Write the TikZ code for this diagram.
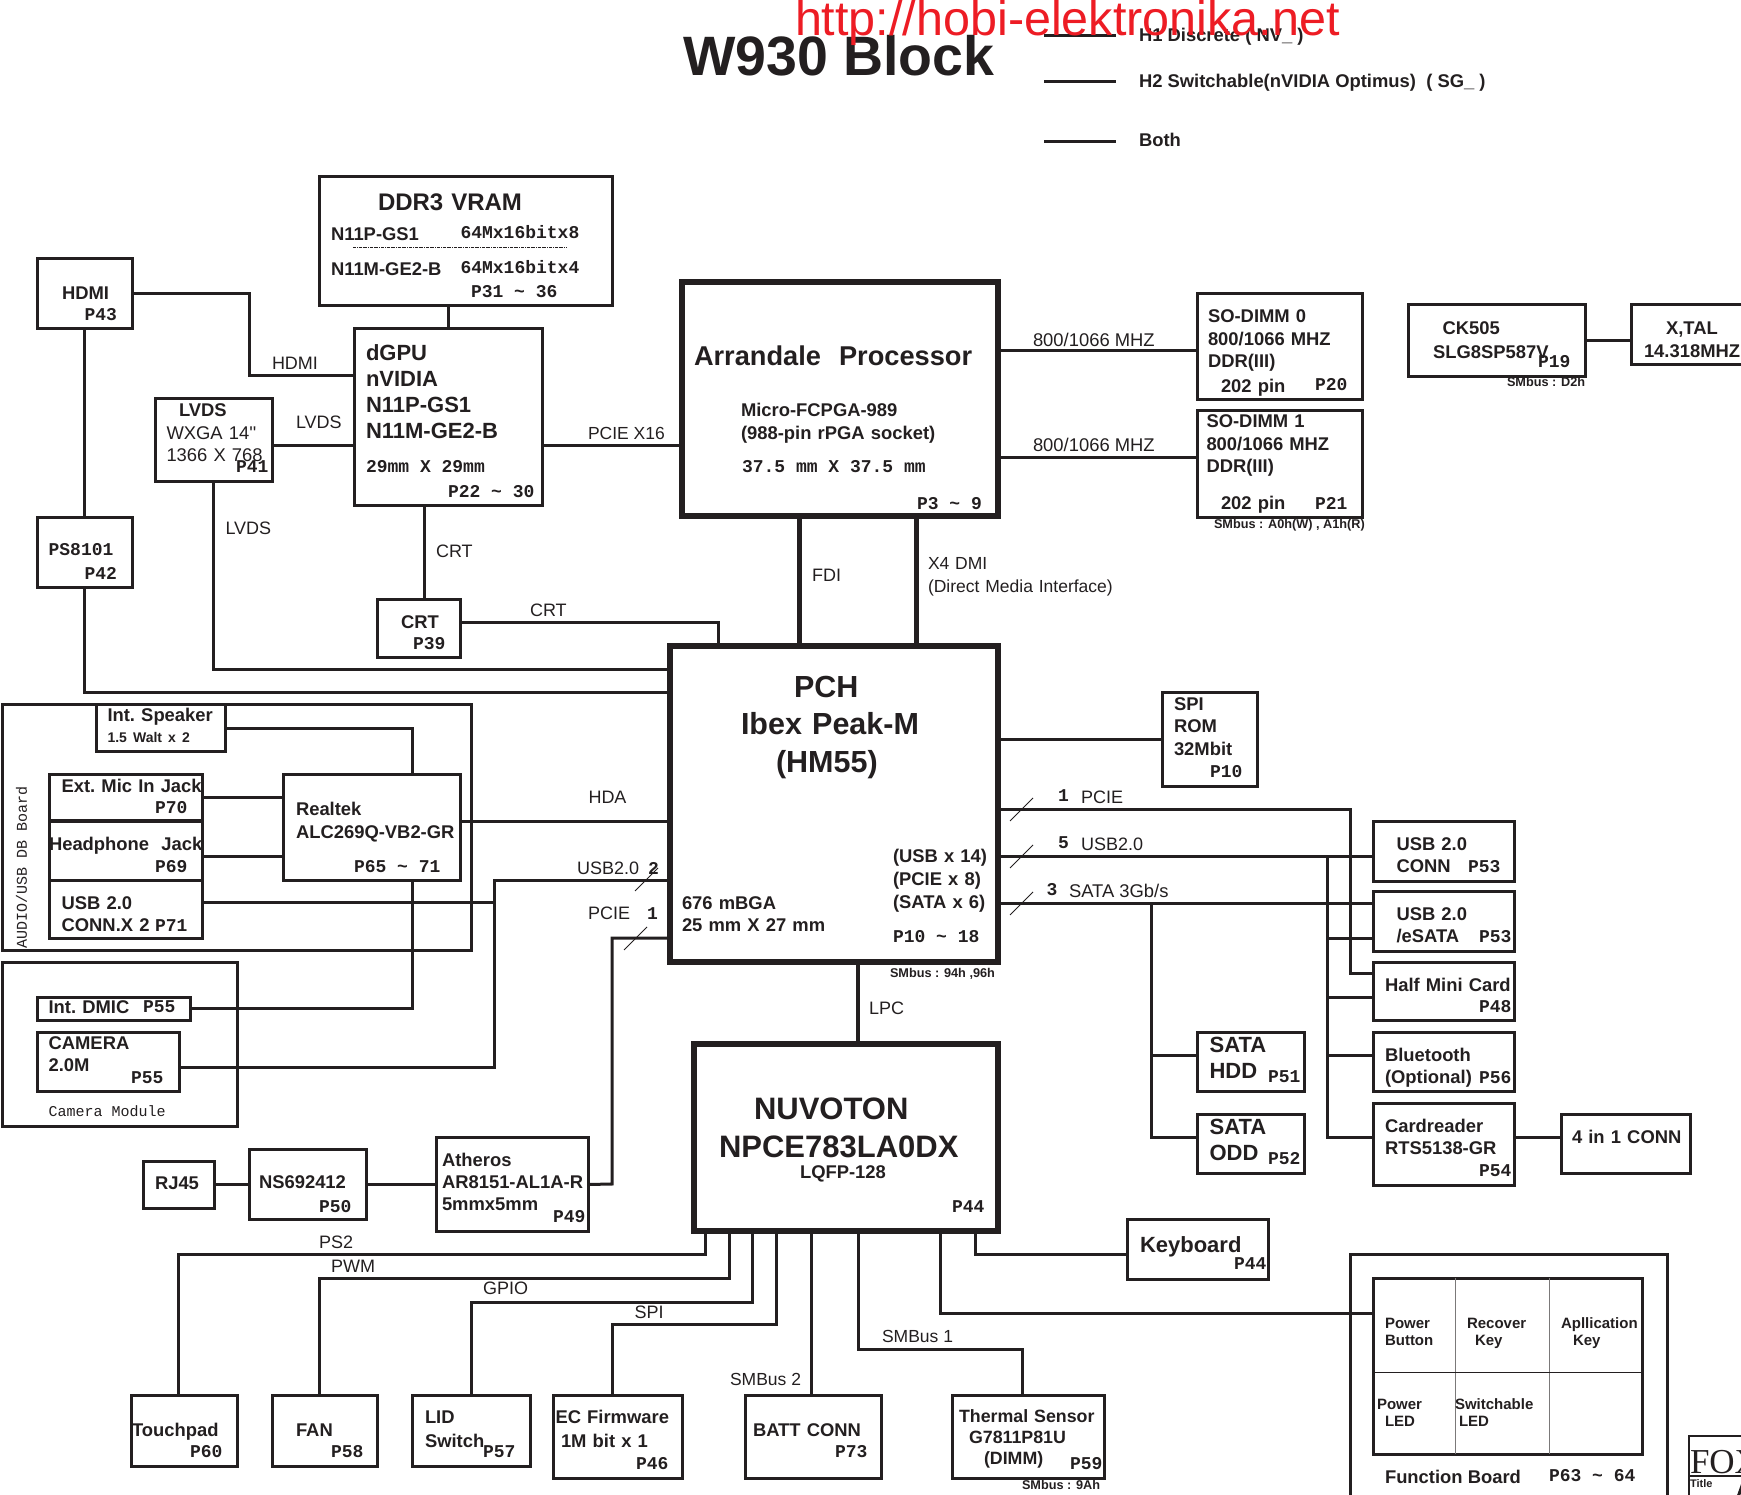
\documentclass[tikz,border=0pt]{standalone}
\usepackage{xcolor}
\usepackage{fontspec}
\setmainfont{Liberation Sans}
\setmonofont{Liberation Mono}
\usetikzlibrary{positioning}
\definecolor{ink}{HTML}{231F20}
\definecolor{wmred}{HTML}{ED1C24}

\begin{document}
\begin{tikzpicture}[
  x=1pt, y=-1pt,
  every node/.style={text=ink},
  bx/.style n args={4}{draw=ink, line width=3pt, outer sep=0pt, inner sep=0pt, anchor=north west, align=left,
    font=\fontsize{18.4}{22.5}\selectfont\bfseries, minimum width=#1, minimum height=#2, text width=#1-2*#3,
    text height={max(0,2*#4-#2)}, text depth={max(0,#2-2*#4)}},
  chip/.style={line width=6pt},
  big/.style={font=\fontsize{22}{26}\selectfont\bfseries},
  tx/.style={anchor=base west, inner sep=0pt, outer sep=0pt, align=left},
  lab/.style={tx, font=\fontsize{18}{22}\selectfont},
  labm/.style={tx, font=\fontsize{18.4}{22}\selectfont},
  labs/.style={tx, font=\fontsize{17.5}{23}\selectfont},
  bt/.style={tx, font=\fontsize{18.4}{22.5}\selectfont\bfseries},
  tiny/.style={tx, font=\fontsize{12.7}{15}\selectfont\bfseries},
  cell/.style={tx, text width=88pt, font=\fontsize{15}{17.5}\selectfont\bfseries},
  monob/.style={tx, font=\fontsize{18}{22}\selectfont\ttfamily\bfseries},
  monor/.style={tx, font=\fontsize{15}{18}\selectfont\ttfamily},
  conn/.style={draw=ink, line width=3pt},
  tick/.style={draw=ink, line width=0.9pt},
  divider/.style={draw=ink!60, line width=1pt}
]
\useasboundingbox (0,0) rectangle (1741,1495);

\node[tx, font=\fontsize{55.5}{60}\selectfont\bfseries] (title) at (683,76) {W930 Block};
\node[bt] (hone) at (1139,42) {H1 Discrete ( NV\_ )};
\node[bt] (htwo) at (1139,88) {H2 Switchable(nVIDIA Optimus)~~( SG\_ )};
\node[bt] (hboth) at (1139,147) {Both};
\foreach \nm/\ly in {hone/36,htwo/82,hboth/142} {
  \coordinate (\nm a) at (1044,\ly);
  \coordinate (\nm b) at (1116,\ly);
  \draw[conn] (\nm a) -- (\nm b);
}

\node[bx={293}{129}{59}{34}, font=\fontsize{24}{28}\selectfont\bfseries] (vram) at (319,177) {DDR3~VRAM};
\node[bt] (vramgs) at (331,241) {N11P-GS1};
\node[bt] (vramge) at (331,276) {N11M-GE2-B};
\node[monob] (vramx) at (460.5,239) {64Mx16bitx8};
\node[monob] (vramy) at (460.5,274) {64Mx16bitx4};
\coordinate (dasha) at (353,247);
\coordinate (dashb) at (566,247);
\draw[draw=ink, line width=0.6pt, densely dash dot] (dasha) -- (dashb);

\node[bx={95}{70}{25}{41}] (hdmi) at (37,259) {HDMI};
\node[bx={95}{70}{11.6}{38}, below=188pt of hdmi, font=\fontsize{18}{22}\selectfont\ttfamily\bfseries] (ps) {PS8101};
\node[bx={188}{176}{12}{32}, big] (dgpu) at (354,329) {dGPU\\nVIDIA\\N11P-GS1\\N11M-GE2-B};
\node[monob] (dgpusize) at (366,473) {29mm X 29mm};
\node[bx={117}{83}{11.5}{18}] (lvds) at (155,399) {\hspace*{12.5pt}LVDS\\{\mdseries WXGA~14\textquotesingle\textquotesingle}\\{\mdseries 1366~X~768}};
\node[bx={83}{58}{24}{29}] (crt) at (377,599) {CRT};

\node[bx={316}{234}{12}{84}, chip, font=\fontsize{27.2}{32}\selectfont\bfseries] (arr) at (682,282) {Arrandale~~Processor};
\node[bt, text width=220pt] (arrsock) at (741,417) {Micro-FCPGA-989\\(988-pin rPGA socket)};
\node[monob] (arrsize) at (742,473) {37.5 mm X 37.5 mm};

\node[bx={165}{106}{11}{29}] (dimma) at (1197,294) {SO-DIMM 0\\800/1066~MHZ\\DDR(III)\\[2.5pt]\hspace*{13pt}202 pin};
\node[bx={165}{106}{9.5}{17}, below=11pt of dimma] (dimmb) {SO-DIMM 1\\800/1066~MHZ\\DDR(III)\\[14pt]\hspace*{14.5pt}202 pin};
\node[tiny] (dimmbus) at (1214,528) {SMbus : A0h(W) , A1h(R)};
\node[bx={177}{72}{25}{30}] (ck) at (1408,305) {\hspace*{9.5pt}CK505\\[1.5pt]SLG8SP587V};
\node[tiny] (ckbus) at (1507,387) {SMbus : D2h};
\node[bx={129}{60}{13}{30}] (xtal) at (1631,305) {\hspace*{22pt}X,TAL\\[0pt]14.318MHZ};

\node[bx={328}{316}{71}{51}, chip, font=\fontsize{30.5}{37.5}\selectfont\bfseries] (pch) at (670,646) {\hspace*{53pt}PCH\\Ibex~Peak-M\\\hspace*{35pt}(HM55)};
\node[bt, text width=180pt] (pchbga) at (682,909) {676 mBGA\\25 mm X 27 mm};
\node[bt, text width=100pt, font=\fontsize{18.4}{23}\selectfont\bfseries] (pchports) at (893,862) {(USB x 14)\\(PCIE x 8)\\(SATA x 6)};
\node[tiny] (pchbus) at (890,977) {SMbus : 94h ,96h};

\node[bx={469}{246}{0}{0}] (audio) at (2,704) {};
\node[monor, rotate=90] (audiotext) at (27,948) {AUDIO/USB DB Board};
\node[bx={129}{47}{11.5}{17}] (speaker) at (96,704) {Int.~Speaker\\[-1.5pt]{\fontsize{14}{14}\selectfont 1.5 Walt x 2}};
\node[bx={153}{47}{12.6}{18}] (mic) at (49,774) {Ext.~Mic~In~Jack};
\node[bx={153}{59}{0}{29}, below=0pt of mic] (phone) {Headphone~~Jack};
\node[bx={153}{58}{12.6}{29}, below=0pt of phone] (usbx) {USB 2.0\\CONN.X~2};
\node[bx={177}{106}{13}{41}, font=\fontsize{18.4}{23}\selectfont\bfseries] (realtek) at (283,774) {Realtek\\\mbox{ALC269Q-VB2-GR}};
\draw[draw=ink, line width=4.5pt] (mic.south west) -- (mic.south east);

\node[bx={235}{164}{0}{0}] (cammod) at (2,962) {};
\node[bx={153}{23}{11.6}{16}] (dmic) at (37,997) {Int.~DMIC};
\node[bx={142}{59}{11.6}{17}] (cam) at (37,1032) {CAMERA\\2.0M};
\node[monor] (camtext) at (48.6,1116) {Camera Module};

\node[bx={95}{94}{12}{18}] (spi) at (1162,692) {SPI\\ROM\\32Mbit};
\node[bx={141}{60}{23.5}{29}] (usbconn) at (1373,821) {USB 2.0\\CONN};
\node[bx={141}{60}{23.5}{29}, below=10pt of usbconn] (esata) {USB 2.0\\/eSATA};
\node[bx={141}{58}{12}{29}, below=11pt of esata] (half) {Half~Mini~Card};
\node[bx={141}{59}{12}{29}, below=12pt of half] (blue) {Bluetooth\\(Optional)};
\node[bx={141}{82}{12}{29}, below=12pt of blue] (card) {Cardreader\\RTS5138-GR};
\node[bx={129}{59}{11}{29}] (fourin) at (1561,1114) {4~in~1~CONN};
\node[bx={107}{59}{12.6}{20}, big] (hdd) at (1197,1032) {SATA\\HDD};
\node[bx={107}{59}{12.6}{20}, big, below=23pt of hdd] (odd) {SATA\\ODD};

\node[bx={304}{187}{25}{75}, chip, font=\fontsize{31}{38}\selectfont\bfseries] (npce) at (694,1044) {\hspace*{35pt}NUVOTON\\NPCE783LA0DX};
\node[bt] (npcepkg) at (800,1178) {LQFP-128};

\node[bx={71}{47}{12}{28}] (rj) at (143,1161) {RJ45};
\node[bx={117}{70}{10}{39}, right=35pt of rj] (ns) {NS692412};
\node[bx={152}{94}{6}{29}, font=\fontsize{18.4}{22}\selectfont\bfseries, right=70pt of ns] (ath) {Atheros\\\mbox{AR8151-AL1A-R}\\5mmx5mm};

\node[bx={105.5}{71}{0.5}{41}] (touch) at (131.5,1395) {Touchpad};
\node[bx={105}{71}{24}{41}, right=35pt of touch] (fan) {FAN};
\node[bx={118}{71}{13}{28}, right=35pt of fan] (lid) {LID\\[1.5pt]Switch};
\node[bx={129}{83}{2.5}{28}, right=23pt of lid.north east, anchor=north west] (ec) {EC~Firmware\\[1.5pt]\hspace*{5.5pt}1M bit x 1};
\node[bx={136}{83}{8}{41}] (batt) at (745,1395) {BATT~CONN};
\node[bx={152}{83}{7}{27}, font=\fontsize{17.8}{21}\selectfont\bfseries] (thermal) at (952,1395) {\mbox{Thermal~Sensor}\\\hspace*{10pt}G7811P81U\\\hspace*{25pt}(DIMM)};
\node[tiny] (thermbus) at (1022,1489) {SMbus : 9Ah};
\node[bx={141}{60}{13}{33}, big] (kbd) at (1127,1219) {Keyboard};

\node[bx={317}{290}{0}{0}] (fnouter) at (1350,1254) {};
\node[bx={269.5}{176}{0}{0}] (fninner) at (1373,1278) {};
\draw[divider] (fninner.north -| 1455,0) -- (fninner.south -| 1455,0);
\draw[divider] (fninner.north -| 1549,0) -- (fninner.south -| 1549,0);
\draw[draw=ink, line width=1pt] (fninner.west |- 0,1372) -- (fninner.east |- 0,1372);
\node[cell] (powerbtn) at (1385,1328) {Power\\Button};
\node[cell] (recover) at (1467,1328) {Recover\\\hspace*{8pt}Key};
\node[cell] (applic) at (1561,1328) {Apllication\\\hspace*{12pt}Key};
\node[cell] (powerled) at (1377,1409) {Power\\\hspace*{8pt}LED};
\node[cell] (swled) at (1455,1409) {Switchable\\\hspace*{4pt}LED};
\node[bt] (fntext) at (1385,1483) {Function Board};

\foreach \nm/\px/\py/\ptxt in {vram/471/298/P31 \textasciitilde{} 36, hdmi/84.5/321/P43, ps/84.5/579/P42, lvds/236/473/P41,
  dgpu/448/497/P22 \textasciitilde{} 30, crt/413/649/P39, arr/917/509/P3 \textasciitilde{} 9, dimma/1315/391/P20, dimmb/1315/509/P21,
  ck/1538/368/P19, pch/893/942/P10 \textasciitilde{} 18, mic/155/813/P70, phone/155/872/P69, usbx/155/931/P71,
  realtek/354/872/P65 \textasciitilde{} 71, dmic/143/1012/P55, cam/131/1083/P55, spi/1210/777/P10, usbconn/1468/872/P53,
  esata/1479/942/P53, half/1479/1012/P48, blue/1479/1083/P56, card/1479/1176/P54, hdd/1268/1082/P51, odd/1268/1164/P52,
  npce/952/1212/P44, ns/319/1212/P50, ath/553/1222/P49, touch/190/1457/P60, fan/331/1457/P58, lid/483/1457/P57,
  ec/636/1469/P46, batt/835/1457/P73, thermal/1070/1469/P59, kbd/1234/1269/P44, fnouter/1549/1481/P63 \textasciitilde{} 64}
  \node[monob] (\nm page) at (\px,\py) {\ptxt};

\draw[conn] (dgpu.north) -- (dgpu.north |- vram.south);
\draw[conn] (hdmi.east) -| (249,376) -- (dgpu.west |- 0,376);
\draw[conn] (hdmi.south) -- (ps.north);
\draw[conn] (ps.south) |- (pch.west |- 0,692);
\draw[conn] (lvds.south) |- (pch.west |- 0,669);
\draw[conn] (lvds.east |- 0,446) -- (dgpu.west |- 0,446);
\draw[conn] (dgpu.east |- 0,446) -- (arr.west |- 0,446);
\draw[conn] (dgpu.south -| 424,0) -- (crt.north -| 424,0);
\draw[conn] (crt.east |- 0,622) -| (pch.north -| 718,0);
\draw[conn] (arr.east |- 0,351) -- (dimma.west |- 0,351);
\draw[conn] (arr.east |- 0,458) -- (dimmb.west |- 0,458);
\draw[conn] (ck.east) -- (xtal.west |- ck.east);
\draw[conn, line width=5pt] (arr.south -| 799,0) -- (pch.north -| 799,0);
\draw[conn, line width=5pt] (arr.south -| 916,0) -- (pch.north -| 916,0);
\draw[conn, line width=4.5pt] (pch.south -| 858,0) -- (npce.north -| 858,0);

\draw[conn] (speaker.east |- 0,728) -| (realtek.north -| 412,0);
\draw[conn] (mic.east) -- (realtek.west |- mic.east);
\draw[conn] (phone.east |- 0,856) -- (realtek.west |- 0,856);
\draw[conn] (realtek.east |- 0,821) -- (pch.west |- 0,821);
\draw[conn] (realtek.south -| 412,0) |- (dmic.east);
\draw[conn] (pch.west |- 0,880) -| (494,1067) -- (cam.east |- 0,1067);
\draw[conn] (usbx.east |- 0,902) -- (494,902);
\draw[conn] (pch.west |- 0,938) -| (612,1184) -- (ath.east);
\draw[conn] (rj.east) -- (ns.west);
\draw[conn] (ns.east) -- (ath.west);

\draw[conn] (pch.east |- 0,739) -- (spi.west);
\draw[conn] (pch.east |- 0,809) -| (1350,973) -- (half.west |- 0,973);
\draw[conn] (pch.east |- 0,856) -- (usbconn.west |- 0,856);
\draw[conn] (pch.east |- 0,903) -- (esata.west |- 0,903);
\coordinate (usbbus) at (1327,856);
\coordinate (satabus) at (1151,903);
\draw[conn] (usbbus) |- (esata.west |- 0,938);
\draw[conn] (usbbus) |- (half.west |- 0,997);
\draw[conn] (usbbus) |- (blue.west |- 0,1055);
\draw[conn] (usbbus) |- (card.west |- 0,1137);
\draw[conn] (satabus) |- (hdd.west |- 0,1055);
\draw[conn] (satabus) |- (odd.west |- 0,1137);
\draw[conn] (card.east |- 0,1137) -- (fourin.west |- 0,1137);

\foreach \nm/\xa/\ya/\xb in {touch/705/1254/178, fan/729/1278/319, lid/752/1302/471, ec/776/1324/612, thermal/858/1349/1022}
  \draw[conn] (npce.south -| \xa,0) |- (\xb,\ya) -- (\nm.north -| \xb,0);
\draw[conn] (npce.south -| 811,0) -- (batt.north -| 811,0);
\draw[conn] (npce.south -| 940,0) |- (fninner.west |- 0,1313);
\draw[conn] (npce.south -| 975,0) |- (kbd.west |- 0,1254);

\foreach \tx/\ty in {635/891, 624/950, 1010/821, 1010/868, 1010/915}
  \draw[tick] (\tx,\ty) -- ++(23,-23);

\node[lab] (lhdmi) at (272,370) {HDMI};
\node[lab] (llvdsa) at (296,429) {LVDS};
\node[lab] (llvdsb) at (225.5,534) {LVDS};
\node[labs] (lpeg) at (588,439) {PCIE X16};
\node[lab] (lcrta) at (436,557) {CRT};
\node[lab] (lcrtb) at (530,616) {CRT};
\node[labm] (lmema) at (1033,347) {800/1066 MHZ};
\node[labm] (lmemb) at (1033,452) {800/1066 MHZ};
\node[lab] (lfdi) at (812,581) {FDI};
\node[labs, text width=200pt] (ldmi) at (928,569) {X4 DMI\\(Direct Media Interface)};
\node[lab] (lhda) at (588.5,803) {HDA};
\node[lab] (lusba) at (577,874) {USB2.0};
\node[monob] (lusban) at (648,874) {2};
\node[lab] (lpciea) at (588,919) {PCIE};
\node[monob] (lpcien) at (647,919) {1};
\node[monob] (lpcieo) at (1058,801) {1};
\node[lab] (lpcieb) at (1081,803) {PCIE};
\node[monob] (lusbf) at (1058,848) {5};
\node[lab] (lusbb) at (1081,850) {USB2.0};
\node[monob] (lsatan) at (1046.5,895) {3};
\node[labm] (lsata) at (1069,897) {SATA 3Gb/s};
\node[lab] (llpc) at (869,1014) {LPC};
\node[lab] (lps) at (319,1248) {PS2};
\node[lab] (lpwm) at (331,1272) {PWM};
\node[lab] (lgpio) at (483,1294) {GPIO};
\node[lab] (lspi) at (634.5,1318) {SPI};
\node[labs] (lsmbb) at (730,1385) {SMBus 2};
\node[labs] (lsmba) at (882,1342) {SMBus 1};

\node[draw=ink, line width=1.2pt, outer sep=0pt, inner sep=0pt, anchor=north west, minimum width=110, minimum height=40] (logo) at (1689,1436) {};
\coordinate (logoend) at (1689,1500);
\draw[draw=ink, line width=1.2pt] (logo.south west) -- (logoend);
\node[tx, font=\fontsize{35}{35}\selectfont] (logotext) at (1690,1473) {\fontspec{Liberation Serif}FOX};
\node[tx, font=\fontsize{11}{11}\selectfont\bfseries] (logotitle) at (1690,1487) {Title};
\coordinate (marka) at (1743,1483);
\coordinate (markb) at (1738,1497);
\draw[conn] (marka) -- (markb);

\node[tx, text=wmred, font=\fontsize{48.5}{50}\selectfont] (watermark) at (795,36) {http://hobi-elektronika.net};
\end{tikzpicture}
\end{document}
